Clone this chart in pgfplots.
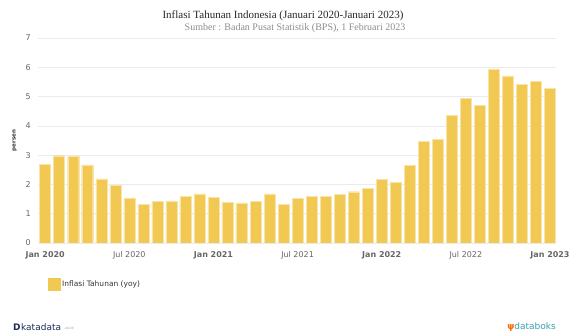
\documentclass[border=0pt]{standalone}
\usepackage{fontspec}
\setmainfont{DejaVu Sans}
\newfontfamily\seriffont{Liberation Serif}
\usepackage{pgfplots}
\pgfplotsset{compat=1.18}
\usetikzlibrary{calc}
\definecolor{barc}{RGB}{241,200,82}
\definecolor{tickc}{RGB}{102,102,102}
\definecolor{boldc}{RGB}{51,51,51}
\definecolor{kata}{RGB}{28,45,90}
\definecolor{dbk}{RGB}{56,160,172}
\begin{document}
\begin{tikzpicture}
\begin{axis}[
  name=ax, scale only axis,
  width=517.7pt, height=205pt,
  xmin=-0.49, xmax=36.43, ymin=0, ymax=7,
  axis line style={draw=none},
  tick style={draw=none},
  ytick={0,1,...,7},
  ymajorgrids, grid style={black!8, line width=0.6pt},
  xtick={0,6,12,18,24,30,36},
  xticklabels={\textbf{Jan 2020},Jul 2020,\textbf{Jan 2021},Jul 2021,\textbf{Jan 2022},Jul 2022,\textbf{Jan 2023}},
  ticklabel style={font=\fontsize{8}{9}\selectfont, text=tickc},
  xticklabel style={yshift=-5pt},
  yticklabel style={xshift=-4pt},
  /pgf/number format/assume math mode=true,
  ylabel={\textbf{persen}},
  ylabel style={font=\fontsize{5.5}{6}\selectfont, text=boldc, at={(axis description cs:-0.035,0.5)}},
  legend style={at={(axis description cs:0.013,-0.2)}, anchor=west, draw=none, fill=none,
    font=\fontsize{7.5}{9}\selectfont, text=boldc},
  legend image code/.code={\fill[barc] (0pt,-5.5pt) rectangle (11.5pt,6pt);},
]
\addplot[ybar, bar width=11pt, fill=barc, draw=white!50!barc, line width=0.4pt] coordinates {
(0,2.68) (1,2.98) (2,2.96) (3,2.67) (4,2.19) (5,1.96) (6,1.54) (7,1.32) (8,1.42) (9,1.44) (10,1.59) (11,1.68)
(12,1.55) (13,1.38) (14,1.37) (15,1.42) (16,1.68) (17,1.33) (18,1.52) (19,1.59) (20,1.60) (21,1.66) (22,1.75) (23,1.87)
(24,2.18) (25,2.06) (26,2.64) (27,3.47) (28,3.55) (29,4.35) (30,4.94) (31,4.69) (32,5.95) (33,5.71) (34,5.42) (35,5.51)
(36,5.28)};
\addlegendentry{Inflasi Tahunan (yoy)}
\end{axis}
\begin{scope}[x=1pt,y=1pt,shift={($(ax.south west)+(-38.3pt,-93pt)$)}]
\node[font=\seriffont\fontsize{11}{12}\selectfont, text=black!85] at (283,320) {Inflasi Tahunan Indonesia (Januari 2020-Januari 2023)};
\node[font=\seriffont\fontsize{10}{11}\selectfont, text=black!45] at (295,308) {Sumber : Badan Pusat Statistik (BPS), 1 Februari 2023};
\node[anchor=west, inner sep=0, font=\fontsize{9}{10}\selectfont\bfseries, text=kata] at (13,9) {D\hspace{0.5pt}\mdseries katadata};
\node[anchor=west, inner sep=0, font=\fontsize{3.5}{4}\selectfont, text=black!40] at (64,8) {.co.id};
\node[anchor=east, inner sep=0, font=\fontsize{9}{10}\selectfont, text=dbk] at (556,9) {\textcolor{orange!80!red}{\textbf{ψ}}databoks};
\pgfresetboundingbox
\path[use as bounding box] (0,0) rectangle (569,336);
\end{scope}
\end{tikzpicture}
\end{document}
